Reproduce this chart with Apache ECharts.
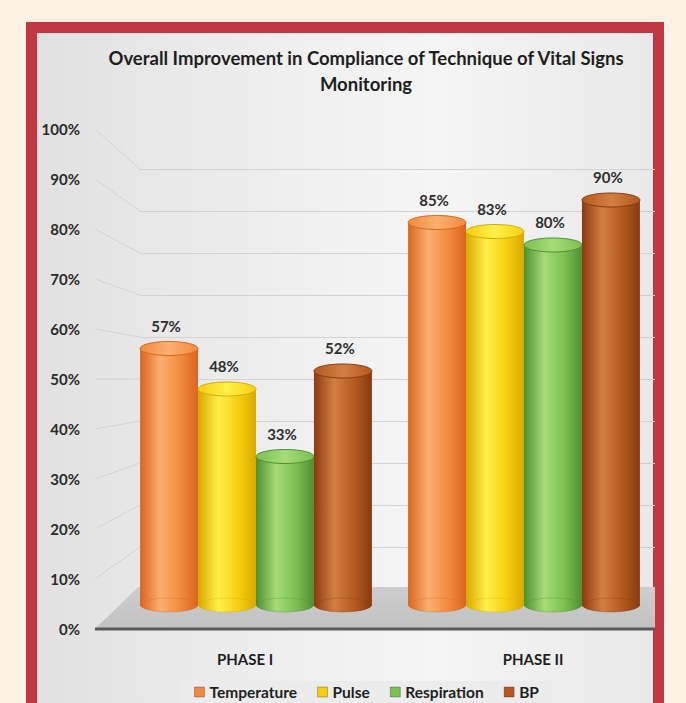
<!DOCTYPE html>
<html>
<head>
<meta charset="utf-8">
<script src="https://cdn.jsdelivr.net/npm/echarts@6.0.0/dist/echarts.min.js"></script>
<style>
html, body { margin: 0; padding: 0; width: 686px; height: 703px; overflow: hidden; background: #fdf1e4; }
.frame {
  position: absolute; left: 26px; top: 22px; width: 638px; height: 720px;
  box-sizing: border-box; border: 11px solid #c23842;
  background: linear-gradient(90deg, #e1e1e1 0%, #efefef 40%, #f5f5f5 65%, #e9e9e9 100%);
}
#chart { position: absolute; left: 0; top: 0; width: 686px; height: 703px; }
</style>
</head>
<body>
<div class="frame"></div>
<div id="chart"></div>
<script>
// data
var phases = ['PHASE I', 'PHASE II'];
var seriesNames = ['Temperature', 'Pulse', 'Respiration', 'BP'];
var temperature = [57, 85];
var pulse = [48, 83];
var respiration = [33, 80];
var bp = [52, 90];
var yTicks = [0, 10, 20, 30, 40, 50, 60, 70, 80, 90, 100];

var FONT = "Lato, 'Open Sans', sans-serif";

// colours for each cylinder: [dark edge, light, mid]
var shades = [
  ['#d9651f', '#fbb070', '#f28a3e'],
  ['#d9a800', '#fff04a', '#f6cf10'],
  ['#4f8f30', '#a6dc78', '#7cbf52'],
  ['#8a3a0e', '#d27f45', '#b3591f']
];

function cylinder(k) {
  var dark = shades[k][0], light = shades[k][1], mid = shades[k][2];
  return function (params, api) {
    var cat = api.value(0);
    var val = api.value(1);
    var top = api.coord([cat, val]);
    var base = api.coord([cat, 0]);
    var band = api.size([1, 0])[0];
    var w = band * 0.865 / 4;
    var cx = top[0] + (k - 1.5) * w;
    var x = cx - w / 2;
    var ry = 7;
    var body = new echarts.graphic.LinearGradient(0, 0, 1, 0, [
      { offset: 0, color: dark },
      { offset: 0.35, color: light },
      { offset: 0.7, color: mid },
      { offset: 1, color: dark }
    ]);
    var cap = new echarts.graphic.LinearGradient(0, 0, 1, 0, [
      { offset: 0, color: mid },
      { offset: 0.5, color: light },
      { offset: 1, color: mid }
    ]);
    return {
      type: 'group',
      children: [
        { type: 'ellipse', shape: { cx: cx, cy: base[1], rx: w / 2, ry: ry }, style: { fill: body } },
        { type: 'rect', shape: { x: x, y: top[1], width: w, height: base[1] - top[1] }, style: { fill: body } },
        { type: 'ellipse', shape: { cx: cx, cy: base[1], rx: w / 2 - 1, ry: ry }, style: { fill: 'none', stroke: dark, lineWidth: 1, opacity: 0.35 } },
        { type: 'ellipse', shape: { cx: cx, cy: top[1], rx: w / 2, ry: ry }, style: { fill: cap, stroke: dark, lineWidth: 1 } },
        {
          type: 'text',
          style: {
            text: val + '%', x: cx - 3, y: top[1] - 23,
            align: 'center', verticalAlign: 'middle',
            font: 'bold 15px ' + FONT, fill: '#2e2e2e'
          }
        }
      ]
    };
  };
}

var values = [temperature, pulse, respiration, bp];

var chart = echarts.init(document.getElementById('chart'), null, { renderer: 'svg' });

var option = {
  backgroundColor: 'transparent',
  animation: false,
  title: {
    text: 'Overall Improvement in Compliance of Technique of Vital Signs\nMonitoring',
    left: 361,
    top: 40,
    textAlign: 'center',
    textStyle: { fontFamily: FONT, fontWeight: 'bold', fontSize: 18.5, lineHeight: 26, color: '#1e1e1e' }
  },
  legend: {
    data: seriesNames,
    left: 180,
    top: 681,
    icon: 'rect',
    itemWidth: 10,
    itemHeight: 10,
    itemGap: 20,
    padding: [3, 14],
    backgroundColor: '#ececec',
    itemStyle: { borderColor: 'rgba(0,0,0,0.25)', borderWidth: 1 },
    textStyle: { fontFamily: FONT, fontWeight: 'bold', fontSize: 15.5, color: '#1e1e1e' }
  },
  grid: [
    // front plane: y labels and category labels
    { left: 101, right: 9, top: 129, height: 500 },
    // back wall
    { left: 140, right: 31, top: 169, height: 420 },
    // cylinders
    { left: 122, right: 28, top: 155, height: 450 }
  ],
  xAxis: [
    {
      gridIndex: 0, type: 'category', data: phases,
      axisLine: { show: false }, axisTick: { show: false },
      axisLabel: { margin: 22, fontFamily: FONT, fontWeight: 'bold', fontSize: 15, color: '#1e1e1e' }
    },
    { gridIndex: 1, type: 'category', data: phases, show: false },
    { gridIndex: 2, type: 'category', data: phases, show: false }
  ],
  yAxis: [
    {
      gridIndex: 0, type: 'value', min: 0, max: 100, interval: 10,
      axisLine: { show: false }, axisTick: { show: false }, splitLine: { show: false },
      axisLabel: { margin: 21, formatter: '{value}%', fontFamily: FONT, fontWeight: 'bold', fontSize: 15, color: '#2a2a2a' }
    },
    {
      gridIndex: 1, type: 'value', min: 0, max: 100, interval: 10,
      axisLine: { show: false }, axisTick: { show: false }, axisLabel: { show: false },
      splitLine: { lineStyle: { color: '#d3d3d3', width: 1 } }
    },
    { gridIndex: 2, type: 'value', min: 0, max: 100, show: false }
  ],
  series: seriesNames.map(function (name, k) {
    return {
      name: name,
      type: 'custom',
      xAxisIndex: 2,
      yAxisIndex: 2,
      z: 5,
      itemStyle: { color: shades[k][2] },
      renderItem: cylinder(k),
      encode: { x: 0, y: 1 },
      data: values[k].map(function (v, i) { return [i, v]; })
    };
  })
};

chart.setOption(option);

// perspective connectors, floor and front edge from the axis scales
var graphics = [];
yTicks.forEach(function (t) {
  var yf = chart.convertToPixel({ yAxisIndex: 0 }, t);
  var yb = chart.convertToPixel({ yAxisIndex: 1 }, t);
  graphics.push({
    type: 'polyline', z: 0,
    shape: { points: [[95, yf], [140, yb]] },
    style: { stroke: '#d3d3d3', lineWidth: 1, fill: 'none' }
  });
});
var y0f = chart.convertToPixel({ yAxisIndex: 0 }, 0);
var y0b = chart.convertToPixel({ yAxisIndex: 1 }, 0);
graphics.push({
  type: 'polygon', z: 1,
  shape: { points: [[95, y0f], [138, y0b - 2], [655, y0b - 2], [655, y0f]] },
  style: {
    fill: new echarts.graphic.LinearGradient(0, 0, 0, 1, [
      { offset: 0, color: '#cdcdcd' },
      { offset: 1, color: '#c2c2c2' }
    ])
  }
});
graphics.push({
  type: 'line', z: 2,
  shape: { x1: 95, y1: y0f, x2: 655, y2: y0f },
  style: { stroke: '#5a5a5a', lineWidth: 3 }
});
chart.setOption({ graphic: graphics });
</script>
</body>
</html>
